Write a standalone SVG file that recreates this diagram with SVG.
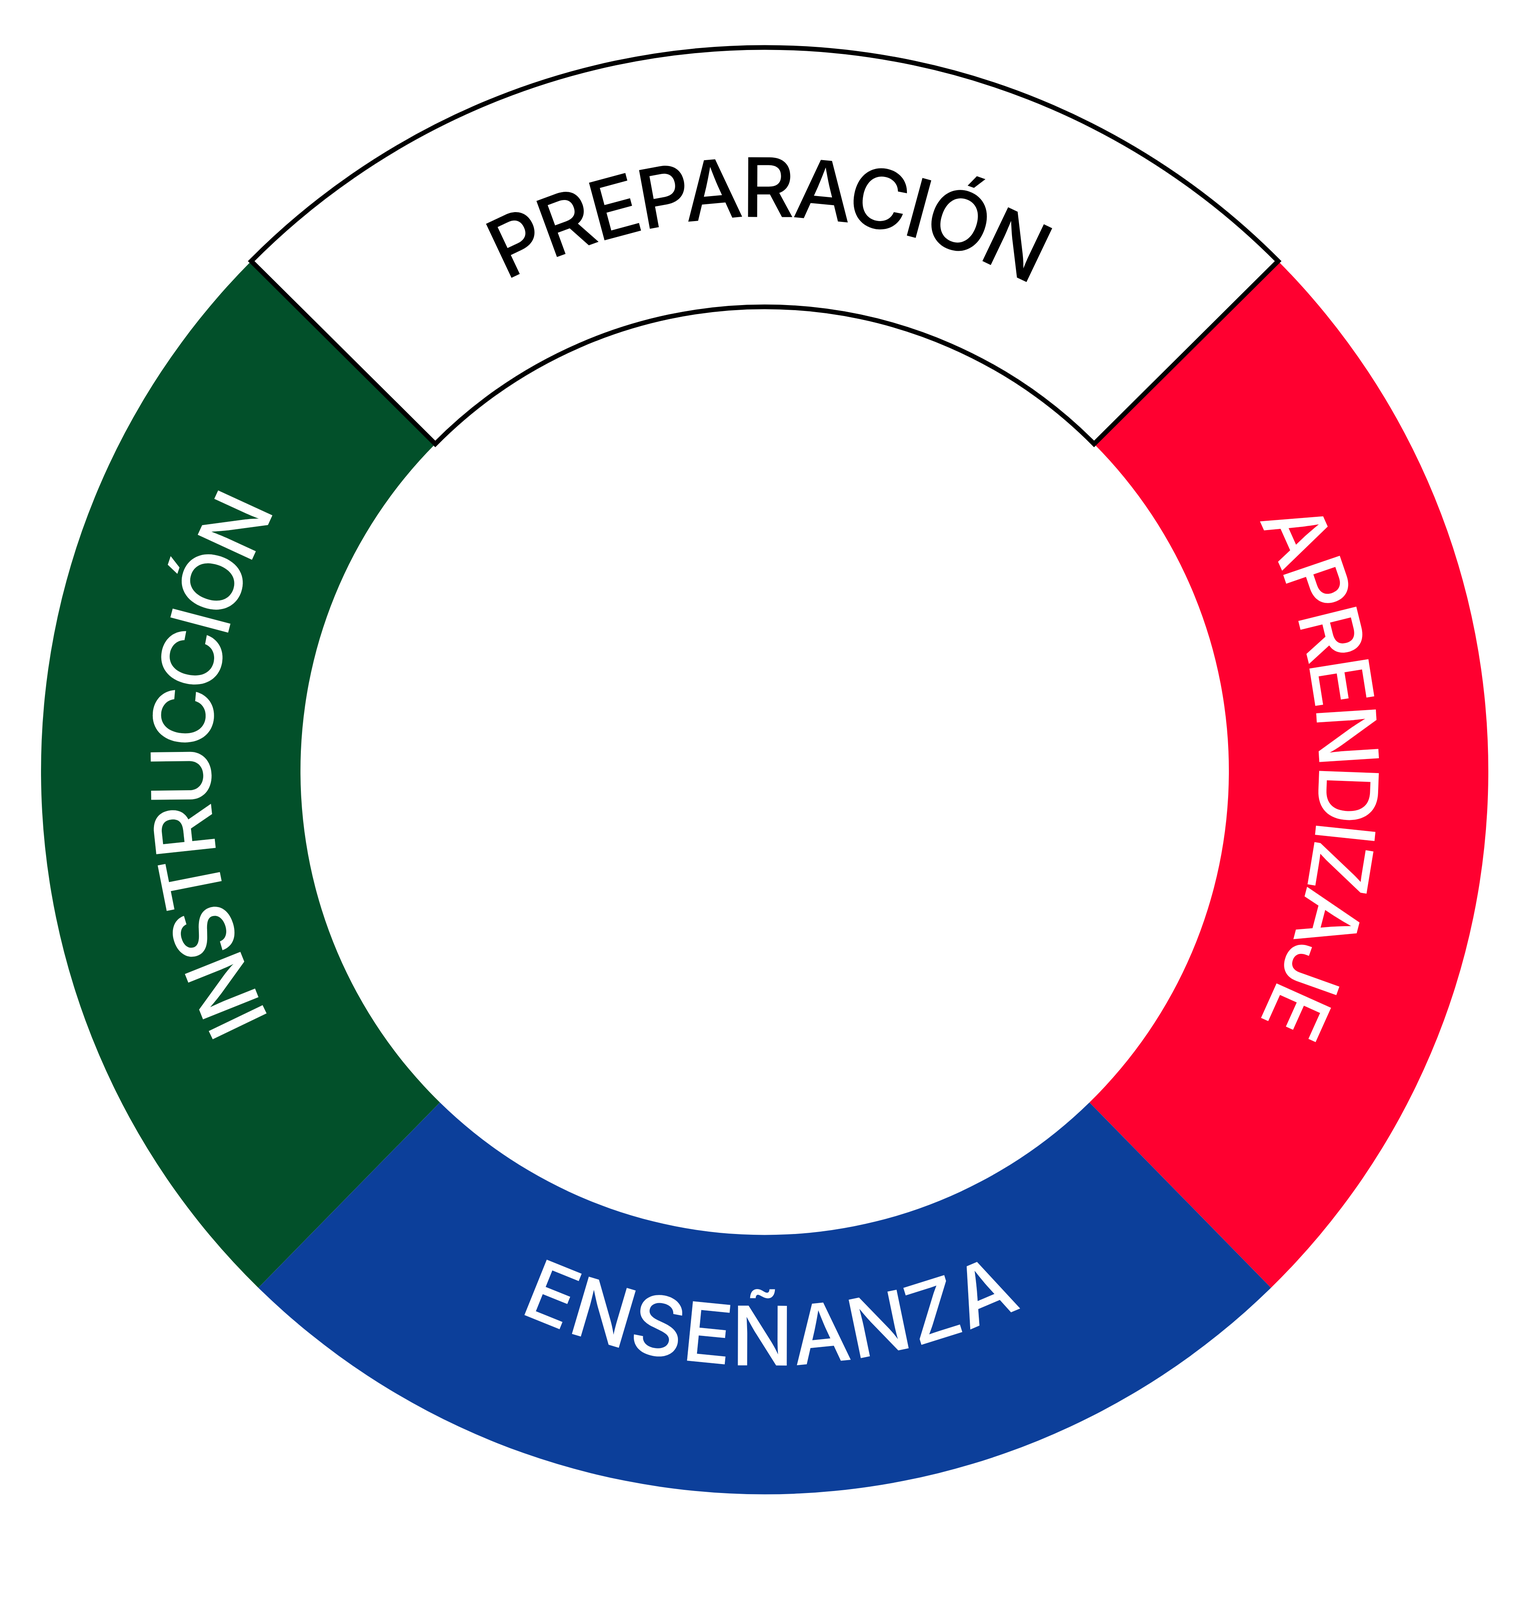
<svg xmlns="http://www.w3.org/2000/svg" xmlns:xlink="http://www.w3.org/1999/xlink" width="3908" height="4398" viewBox="0 0 3908 4398">
<style>
.lbl{font-family:Inter,"Noto Sans","Liberation Sans",sans-serif;font-weight:550;font-size:210px;}
.dark{fill:#000000;}
.light{fill:#ffffff;}
</style>
<defs>
<path id="arcTop" d="M 539 1973.5 A 1418 1418 0 0 1 3375 1973.5"/>
<path id="arcRight" d="M 1957 555.5 A 1418 1418 0 0 1 1957 3391.5"/>
<path id="arcLeft" d="M 1957 3391.5 A 1418 1418 0 0 1 1957 555.5"/>
<path id="arcBottom" d="M 435 1973.5 A 1522 1522 0 0 0 3479 1973.5"/>
</defs>
<rect x="0" y="0" width="3908" height="4398" fill="#ffffff"/>
<g id="aprendizaje">
<path d="M 3271.1 668.5 A 1852 1852 0 0 1 3252.8 3296.7 L 2788.2 2822.3 A 1188 1188 0 0 0 2800 1136.4 Z" fill="#FF0030"/>
<text class="lbl light" letter-spacing="-11"><textPath xlink:href="#arcRight" href="#arcRight" startOffset="2222" text-anchor="middle">APRENDIZAJE</textPath></text>
</g>
<g id="ensenanza">
<path d="M 3252.8 3296.7 A 1852 1852 0 0 1 661.2 3296.7 L 1125.8 2822.3 A 1188 1188 0 0 0 2788.2 2822.3 Z" fill="#0C3F9A"/>
<text class="lbl light" letter-spacing="4"><textPath xlink:href="#arcBottom" href="#arcBottom" startOffset="2408" text-anchor="middle">ENSEÑANZA</textPath></text>
</g>
<g id="instruccion">
<path d="M 661.2 3296.7 A 1852 1852 0 0 1 642.9 668.5 L 1114 1136.4 A 1188 1188 0 0 0 1125.8 2822.3 Z" fill="#02502A"/>
<text class="lbl light" letter-spacing="-11"><textPath xlink:href="#arcLeft" href="#arcLeft" startOffset="2240" text-anchor="middle">INSTRUCCIÓN</textPath></text>
</g>
<g id="preparacion">
<path d="M 642.9 668.5 A 1852 1852 0 0 1 3271.1 668.5 L 2800 1136.4 A 1188 1188 0 0 0 1114 1136.4 Z" fill="#ffffff" stroke="#000000" stroke-width="12" stroke-linejoin="miter"/>
<text class="lbl dark" letter-spacing="-7"><textPath xlink:href="#arcTop" href="#arcTop" startOffset="2236" text-anchor="middle">PREPARACIÓN</textPath></text>
</g>
</svg>
